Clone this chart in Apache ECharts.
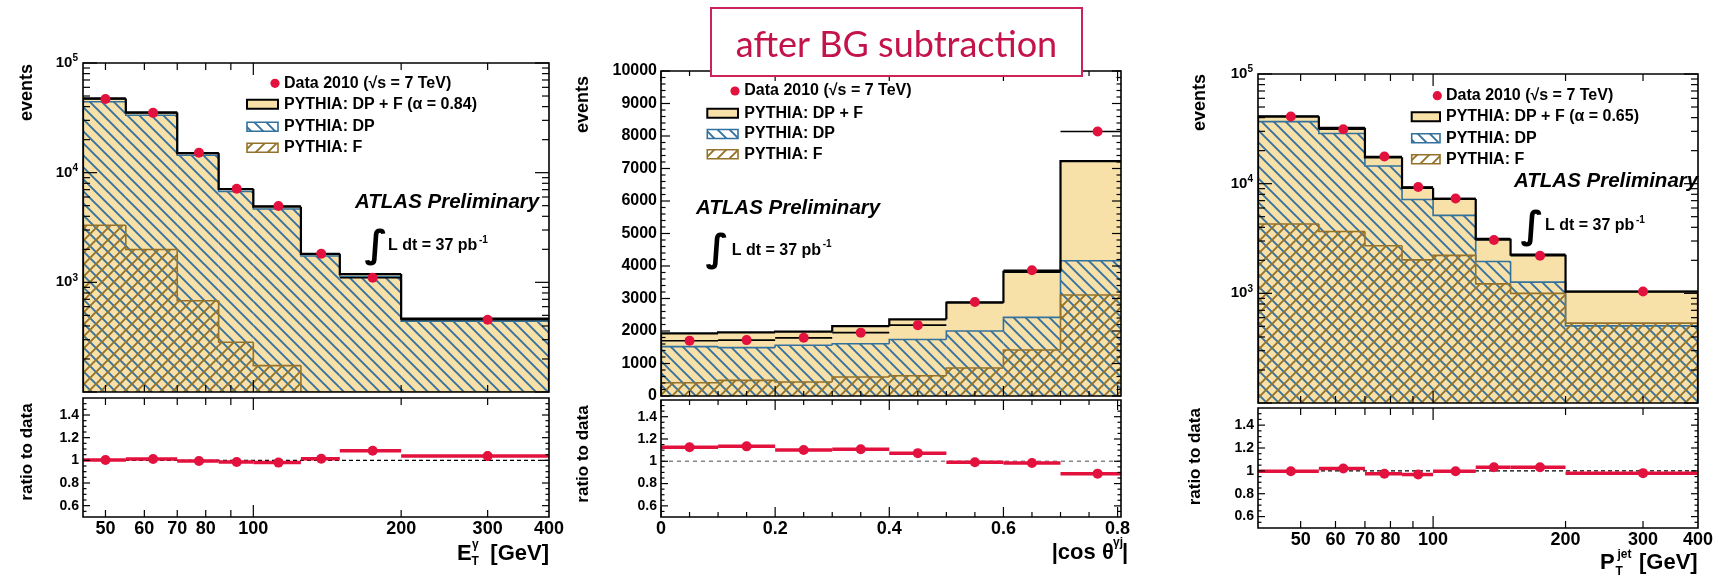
<!DOCTYPE html>
<html><head><meta charset="utf-8">
<script src="https://cdn.jsdelivr.net/npm/echarts@6.0.0/dist/echarts.min.js"></script>
<style>html,body{margin:0;padding:0;background:#fff;}#c{width:1719px;height:582px;}</style>
</head><body><div id="c"></div>
<script>
// ---------------- data ----------------
// Left: photon E_T
const etEdges   = [45, 55, 70, 85, 100, 125, 150, 200, 400];
const etData    = [46900, 35100, 15200, 7140, 4960, 1820, 1100, 456];
const etTotal   = [47500, 35400, 15100, 7100, 4890, 1820, 1190, 466];
const etDP      = [44300, 33400, 14400, 6750, 4660, 1740, 1130, 443];
const etF       = [3320, 1990, 680, 284, 174, 80, 40, 15];
const etRatio   = [1.003, 1.012, 0.994, 0.986, 0.980, 1.014, 1.084, 1.038];
const etRatioErr= [0.004, 0.005, 0.006, 0.008, 0.010, 0.012, 0.015, 0.040];
// Middle: |cos theta|
const cosEdges  = [0, 0.1, 0.2, 0.3, 0.4, 0.5, 0.6, 0.7, 0.83];
const cosData   = [1700, 1720, 1790, 1950, 2180, 2890, 3870, 8140];
const cosTotal  = [1930, 1960, 1980, 2150, 2360, 2870, 3820, 7230];
const cosDP     = [1520, 1490, 1560, 1610, 1740, 2000, 2420, 4160];
const cosF      = [410, 480, 430, 585, 625, 860, 1415, 3110];
const cosRatio  = [1.126, 1.134, 1.102, 1.108, 1.073, 0.991, 0.985, 0.889];
const cosRatioErr=[0.006, 0.006, 0.006, 0.006, 0.006, 0.006, 0.006, 0.006];
// Right: jet pT
const ptEdges   = [40, 55, 70, 85, 100, 125, 150, 200, 400];
const ptData    = [40900, 31400, 17700, 9330, 7320, 3060, 2200, 1040];
const ptTotal   = [41100, 32300, 17400, 9140, 7260, 3140, 2250, 1035];
const ptDP      = [36800, 28700, 14500, 7170, 5140, 1950, 1265, 505];
const ptF       = [4290, 3660, 2720, 2020, 2220, 1220, 1000, 535];
const ptRatio   = [0.997, 1.020, 0.974, 0.968, 0.997, 1.032, 1.032, 0.980];
const ptRatioErr= [0.004, 0.005, 0.006, 0.008, 0.008, 0.010, 0.012, 0.015];

// tick labels
const logXLabels   = [50, 60, 70, 80, 100, 200, 300, 400];
const logYLabels   = [1000, 10000, 100000];
const cosXLabels   = [0, 0.2, 0.4, 0.6, 0.8];
const linYLabels   = [0, 1000, 2000, 3000, 4000, 5000, 6000, 7000, 8000, 9000, 10000];
const ratioYLabels = [0.6, 0.8, 1, 1.2, 1.4];
const legendLabels = ['Data 2010 (\u221As = 7 TeV)', 'PYTHIA: DP + F', 'PYTHIA: DP', 'PYTHIA: F'];

// ---------------- helpers ----------------
const RED = '#e2113d', BLUE = '#33719e', BROWN = '#94722a', YEL = '#f8e0a9';
const FONT = '"Liberation Sans", Arial, Helvetica, sans-serif';

function range(a, b, s) { const r = []; for (let v = a; v <= b + 1e-9; v += s) r.push(+v.toFixed(6)); return r; }
function logMinor(d0, d1) { const r = []; for (let d = d0; d < d1; d++) for (let k = 2; k <= 9; k++) r.push(k * Math.pow(10, d)); return r; }
const logXMinor = [50, 60, 70, 80, 90, 200, 300];
const logXMajor = [100];
const logYMajor = [100, 1000, 10000, 100000];
const logYMinor = logMinor(2, 5);
const cosXMajor = [0, 0.2, 0.4, 0.6, 0.8];
const cosXMinor = range(0.05, 0.8, 0.05).filter(v => Math.abs(v / 0.2 - Math.round(v / 0.2)) > 1e-6);
const linYMinor = range(0, 10000, 200).filter(v => v % 1000 !== 0);
const ratioYMajor = [0.6, 0.8, 1, 1.2, 1.4];
const ratioYMinor = range(0.55, 1.5, 0.05).filter(v => Math.abs(v * 5 - Math.round(v * 5)) > 1e-6);

function hatch(color, dir, bg) {
  const s = 12, c = document.createElement('canvas'); c.width = s; c.height = s;
  const g = c.getContext('2d');
  if (bg) { g.fillStyle = bg; g.fillRect(0, 0, s, s); }
  g.strokeStyle = color; g.lineWidth = 1.9; g.beginPath();
  if (dir === '\\') {
    g.moveTo(-3, -3); g.lineTo(s + 3, s + 3);
    g.moveTo(-3, s - 3); g.lineTo(3, s + 3);
    g.moveTo(s - 3, -3); g.lineTo(s + 3, 3);
  } else {
    g.moveTo(-3, s + 3); g.lineTo(s + 3, -3);
    g.moveTo(-3, 3); g.lineTo(3, -3);
    g.moveTo(s - 3, s + 3); g.lineTo(s + 3, s - 3);
  }
  g.stroke();
  return { image: c, repeat: 'repeat' };
}
const DP_HATCH = hatch(BLUE, '\\', null), F_HATCH = hatch(BROWN, '/', null);
const DP_HATCH_W = hatch(BLUE, '\\', '#fff'), F_HATCH_W = hatch(BROWN, '/', '#fff');

function histSeries(gi, edges, vals, fill, stroke, lw, z) {
  return {
    type: 'custom', xAxisIndex: gi, yAxisIndex: gi, z, silent: true, clip: true,
    data: vals.map((v, i) => [edges[i], v, edges[i + 1]]),
    encode: { x: [0, 2], y: 1 },
    renderItem(params, api) {
      const cs = params.coordSys, yb = cs.y + cs.height, yt = cs.y, i = params.dataIndex;
      const cl = y => Math.max(yt, Math.min(yb, isFinite(y) ? y : yb));
      const lo = api.value(0), v = api.value(1), hi = api.value(2);
      const p0 = api.coord([lo, v]), p1 = api.coord([hi, v]);
      const top = cl(p0[1]);
      const ch = [];
      if (fill) ch.push({ type: 'rect', shape: { x: p0[0], y: top, width: p1[0] - p0[0], height: yb - top }, style: { fill } });
      if (stroke) {
        const prevTop = i > 0 ? cl(api.coord([lo, vals[i - 1]])[1]) : yb;
        const pts = [[p0[0], prevTop], [p0[0], top], [p1[0], top]];
        if (i === vals.length - 1) pts.push([p1[0], yb]);
        ch.push({ type: 'polyline', shape: { points: pts }, style: { stroke, lineWidth: lw, fill: null } });
      }
      return { type: 'group', children: ch };
    }
  };
}

function barSeries(gi, edges, vals, errs, color, lw, z) {
  return {
    type: 'custom', xAxisIndex: gi, yAxisIndex: gi, z, silent: true, clip: true,
    data: vals.map((v, i) => [edges[i], v, edges[i + 1], errs ? errs[i] : 0]),
    encode: { x: [0, 2], y: 1 },
    renderItem(params, api) {
      const lo = api.value(0), v = api.value(1), hi = api.value(2), e = api.value(3);
      const a = api.coord([lo, v]), b = api.coord([hi, v]);
      const ch = [{ type: 'line', shape: { x1: a[0], y1: a[1], x2: b[0], y2: b[1] }, style: { stroke: color, lineWidth: lw } }];
      if (e > 0) {
        const m = (lo + hi) / 2, u = api.coord([m, v + e]), d = api.coord([m, v - e]);
        ch.push({ type: 'line', shape: { x1: u[0], y1: u[1], x2: d[0], y2: d[1] }, style: { stroke: color, lineWidth: lw } });
      }
      return { type: 'group', children: ch };
    }
  };
}

function pointSeries(gi, edges, vals, z) {
  return {
    type: 'scatter', xAxisIndex: gi, yAxisIndex: gi, z, silent: true, symbol: 'circle', symbolSize: 10,
    itemStyle: { color: RED, opacity: 1 },
    data: vals.map((v, i) => [(edges[i] + edges[i + 1]) / 2, v])
  };
}

function tickSeries(gi, xAny, yAny, xMaj, xMin, yMaj, yMin, lens) {
  const data = [];
  xMaj.forEach(v => data.push([v, yAny, 0]));
  xMin.forEach(v => data.push([v, yAny, 1]));
  yMaj.forEach(v => data.push([xAny, v, 2]));
  yMin.forEach(v => data.push([xAny, v, 3]));
  return {
    type: 'custom', xAxisIndex: gi, yAxisIndex: gi, z: 10, silent: true, clip: false,
    data, encode: { x: 0, y: 1 },
    renderItem(params, api) {
      const cs = params.coordSys, k = api.value(2);
      const c = api.coord([api.value(0), api.value(1)]);
      const L = lens[k], st = { stroke: '#000', lineWidth: 1.2 };
      const ch = [];
      if (k < 2) {
        const x = c[0], yb = cs.y + cs.height;
        ch.push({ type: 'line', shape: { x1: x, y1: yb, x2: x, y2: yb - L }, style: st });
        ch.push({ type: 'line', shape: { x1: x, y1: cs.y, x2: x, y2: cs.y + L }, style: st });
      } else {
        const y = c[1], xr = cs.x + cs.width;
        ch.push({ type: 'line', shape: { x1: cs.x, y1: y, x2: cs.x + L, y2: y }, style: st });
        ch.push({ type: 'line', shape: { x1: xr, y1: y, x2: xr - L, y2: y }, style: st });
      }
      if (params.dataIndex === 0) ch.push({ type: 'rect', shape: { x: cs.x, y: cs.y, width: cs.width, height: cs.height }, style: { fill: null, stroke: '#000', lineWidth: 1.6 } });
      return { type: 'group', children: ch };
    }
  };
}

// ---------------- panels ----------------
const panels = [
  { edges: etEdges, data: etData, total: etTotal, dp: etDP, f: etF, ratio: etRatio, rerr: etRatioErr,
    xType: 'log', xMin: 45, xMax: 400, yType: 'log', yMin: 100, yMax: 100000,
    up: { left: 83, top: 63, width: 466, height: 329 }, lo: { left: 83, top: 398, width: 466, height: 119 },
    xLabels: logXLabels, xMaj: logXMajor, xMin_: logXMinor, xLens: [12, 7],
    yLabels: logYLabels, yMaj: logYMajor, yMin_: logYMinor, yLens: [14, 7], dash: '#000' },
  { edges: cosEdges, data: cosData, total: cosTotal, dp: cosDP, f: cosF, ratio: cosRatio, rerr: cosRatioErr,
    xType: 'value', xMin: 0, xMax: 0.806, yType: 'value', yMin: 0, yMax: 10000,
    up: { left: 661, top: 71, width: 460, height: 325 }, lo: { left: 661, top: 400, width: 460, height: 117 },
    xLabels: cosXLabels, xMaj: cosXMajor, xMin_: cosXMinor, xLens: [10, 5],
    yLabels: linYLabels, yMaj: linYLabels, yMin_: linYMinor, yLens: [9, 4.5], dash: '#888' },
  { edges: ptEdges, data: ptData, total: ptTotal, dp: ptDP, f: ptF, ratio: ptRatio, rerr: ptRatioErr,
    xType: 'log', xMin: 40, xMax: 400, yType: 'log', yMin: 100, yMax: 100000,
    up: { left: 1258, top: 74, width: 440, height: 329 }, lo: { left: 1258, top: 408, width: 440, height: 120 },
    xLabels: logXLabels, xMaj: logXMajor, xMin_: logXMinor, xLens: [12, 7],
    yLabels: logYLabels, yMaj: logYMajor, yMin_: logYMinor, yLens: [14, 7], dash: '#000' }
];

const grid = [], xAxis = [], yAxis = [], series = [];
const lblBase = { color: '#000', fontFamily: FONT, fontWeight: 'bold' };
const axisOff = { axisLine: { show: false }, axisTick: { show: false }, splitLine: { show: false }, minorTick: { show: false }, minorSplitLine: { show: false } };

panels.forEach((p, pi) => {
  const gu = pi * 2, gl = pi * 2 + 1;
  grid.push(Object.assign({ show: false, containLabel: false }, p.up));
  grid.push(Object.assign({ show: false, containLabel: false }, p.lo));
  const xfmt = v => (p.xType === 'log' ? String(Math.round(v)) : (v === 0 ? '0' : v.toFixed(1)));
  [gu, gl].forEach(g => xAxis.push(Object.assign({
    gridIndex: g, type: p.xType, min: p.xMin, max: p.xMax,
    axisLabel: Object.assign({ show: g === gl, customValues: p.xLabels, margin: 3, fontSize: 18, formatter: xfmt }, lblBase)
  }, p.xType === 'log' ? { logBase: 10 } : {}, axisOff)));
  // upper y
  const yfmt = p.yType === 'log' ? (v => '{b|10}{s|' + Math.round(Math.log10(v)) + '}') : (v => String(Math.round(v)));
  yAxis.push(Object.assign({
    gridIndex: gu, type: p.yType, min: p.yMin, max: p.yMax,
    axisLabel: Object.assign({ customValues: p.yLabels, margin: p.yType === 'log' ? 5 : 4, fontSize: 16, formatter: yfmt,
      rich: { b: { fontSize: 15, fontWeight: 'bold', fontFamily: FONT, color: '#000' }, s: { fontSize: 10, fontWeight: 'bold', fontFamily: FONT, color: '#000', padding: [0, 0, 9, 0] } } }, lblBase)
  }, p.yType === 'log' ? { logBase: 10 } : {}, axisOff));
  // ratio y
  yAxis.push(Object.assign({
    gridIndex: gl, type: 'value', min: 0.5, max: 1.55,
    axisLabel: Object.assign({ customValues: ratioYLabels, margin: 4, fontSize: 14, formatter: v => String(+v.toFixed(1)) }, lblBase)
  }, axisOff));

  // upper histograms
  series.push(histSeries(gu, p.edges, p.total, YEL, null, 0, 2));
  series.push(histSeries(gu, p.edges, p.dp, DP_HATCH, BLUE, 1.6, 3));
  series.push(histSeries(gu, p.edges, p.f, F_HATCH, BROWN, 1.6, 4));
  series.push(histSeries(gu, p.edges, p.total, null, '#000', 2.2, 5));
  series.push(barSeries(gu, p.edges, p.data, null, '#000', 1.6, 6));
  series.push(pointSeries(gu, p.edges, p.data, 7));
  series.push(tickSeries(gu, p.xMin, p.yType === 'log' ? 1000 : 0, p.xMaj, p.xMin_, p.yMaj, p.yMin_, [p.xLens[0], p.xLens[1], p.yLens[0], p.yLens[1]]));
  // ratio
  series.push({ type: 'line', xAxisIndex: gl, yAxisIndex: gl, z: 2, silent: true, symbol: 'none',
    lineStyle: { color: p.dash, width: pi === 1 ? 1.6 : 1.1, type: pi === 1 ? [4, 4] : [4, 3] },
    data: [[p.xMin, 1], [p.xMax, 1]] });
  series.push(barSeries(gl, p.edges, p.ratio, p.rerr, RED, 3.5, 5));
  series.push(pointSeries(gl, p.edges, p.ratio, 7));
  series.push(tickSeries(gl, p.xMin, 1, p.xMaj, p.xMin_, ratioYMajor, ratioYMinor, [p.xLens[0], p.xLens[1], 7, 3.5]));
});

// ---------------- text / legend graphics ----------------
function txt(x, y, text, size, opts) {
  opts = opts || {};
  const font = (opts.italic ? 'italic ' : '') + (opts.weight || 'bold') + ' ' + size + 'px ' + (opts.family || FONT);
  return { type: 'text', x, y, rotation: opts.rot || 0, z: 100, silent: true,
    style: { text, font, fill: opts.color || '#000', align: opts.align || 'left', textAlign: opts.align || 'left',
      verticalAlign: opts.va || 'middle', textVerticalAlign: opts.va || 'middle' } };
}
function legend(dotX, textX, boxX, boxW, rows, labels) {
  const els = [{ type: 'circle', z: 100, silent: true, shape: { cx: dotX, cy: rows[0], r: 4.6 }, style: { fill: RED } }];
  const st = [[YEL, '#000', 2], [DP_HATCH_W, BLUE, 1.6], [F_HATCH_W, BROWN, 1.6]];
  for (let i = 0; i < 3; i++) els.push({ type: 'rect', z: 100, silent: true, shape: { x: boxX, y: rows[i + 1] - 4.5, width: boxW, height: 9 }, style: { fill: st[i][0], stroke: st[i][1], lineWidth: st[i][2] } });
  labels.forEach((t, i) => els.push(txt(textX, rows[i], t, 16)));
  return els;
}
function lumi(ix, iy, tx, ty) {
  return [txt(ix, iy, '\u222B', 38, { family: '"DejaVu Sans", sans-serif', weight: 'bold', align: 'center' }),
          txt(tx, ty, 'L dt = 37 pb', 16),
          txt(tx + 91, ty - 6, '-1', 10)];
}
const g = [];
g.push(...legend(275, 284, 247, 31, [83.3, 104.3, 126.7, 147.7],
  [legendLabels[0], legendLabels[1] + ' (\u03B1 = 0.84)', legendLabels[2], legendLabels[3]]));
g.push(...legend(735, 744.3, 707.3, 30.7, [91, 113.3, 134, 154.3], legendLabels));
g.push(...legend(1437.3, 1446, 1411.7, 28.3, [95.7, 116.7, 138.3, 159.3],
  [legendLabels[0], legendLabels[1] + ' (\u03B1 = 0.65)', legendLabels[2], legendLabels[3]]));
g.push(txt(355, 202.7, 'ATLAS Preliminary', 20.5, { italic: true }));
g.push(txt(696, 208.3, 'ATLAS Preliminary', 20.5, { italic: true }));
g.push(txt(1514, 181.7, 'ATLAS Preliminary', 20.5, { italic: true }));
g.push(...lumi(376, 247, 388, 246));
g.push(...lumi(717, 251, 731.7, 250.7));
g.push(...lumi(1532, 228, 1545, 226));
// axis titles
g.push(txt(27, 64, 'events', 18, { rot: Math.PI / 2, align: 'right' }));
g.push(txt(583, 76, 'events', 18, { rot: Math.PI / 2, align: 'right' }));
g.push(txt(1200, 74, 'events', 18, { rot: Math.PI / 2, align: 'right' }));
g.push(txt(27, 452, 'ratio to data', 17, { rot: Math.PI / 2, align: 'center' }));
g.push(txt(583, 454, 'ratio to data', 17, { rot: Math.PI / 2, align: 'center' }));
g.push(txt(1195, 456.7, 'ratio to data', 17, { rot: Math.PI / 2, align: 'center' }));
// x titles
g.push(txt(457, 554, 'E', 22));
g.push(txt(471.5, 562, 'T', 12));
g.push(txt(472, 545, '\u03B3', 12));
g.push(txt(549, 554, '[GeV]', 22, { align: 'right' }));
g.push(txt(1051.7, 553, '|cos \u03B8', 22));
g.push(txt(1113, 543, '\u03B3j', 12));
g.push(txt(1122, 553, '|', 22));
g.push(txt(1600, 562.5, 'P', 22));
g.push(txt(1615.5, 572, 'T', 12));
g.push(txt(1617.5, 555, 'jet', 12));
g.push(txt(1697.7, 562.5, '[GeV]', 22, { align: 'right' }));
// title box
g.push({ type: 'rect', z: 100, silent: true, shape: { x: 711, y: 8, width: 371, height: 68 }, style: { fill: '#fff', stroke: '#cc2358', lineWidth: 2 } });
g.push(txt(896.5, 45, 'after BG subtraction', 36, { family: 'Lato, "Open Sans", sans-serif', weight: 'normal', align: 'center', color: '#c4124b' }));

const chart = echarts.init(document.getElementById('c'), null, { renderer: 'canvas', width: 1719, height: 582 });
chart.setOption({ animation: false, backgroundColor: '#fff', grid, xAxis, yAxis, series, graphic: { elements: g } });
</script></body></html>
